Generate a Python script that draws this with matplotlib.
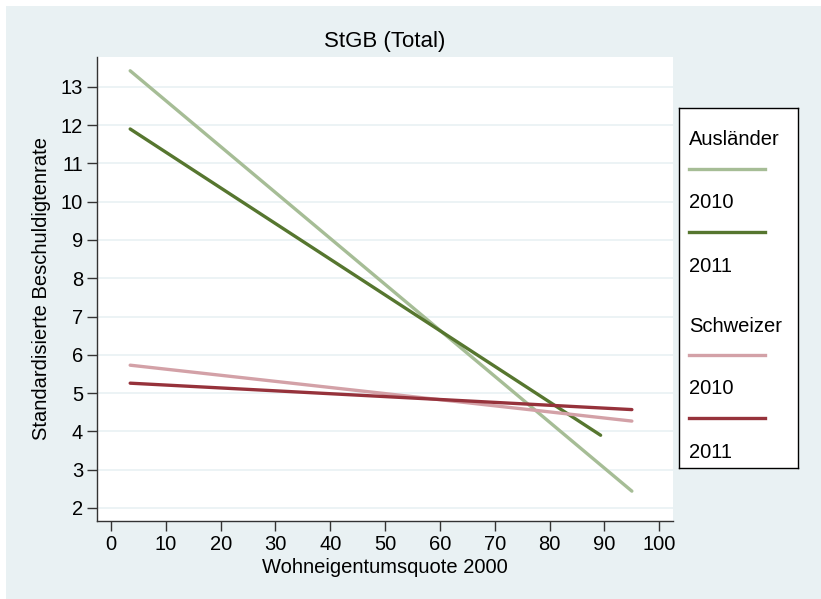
import matplotlib.pyplot as plt
from matplotlib.patches import Rectangle

plt.rcParams['font.family'] = ['Liberation Sans', 'DejaVu Sans']

# Werte (Endpunkte der Regressionsgeraden)
groups = ['Ausländer', 'Schweizer']
years = ['2010', '2011']
x_aus10 = [3.5, 95.0]
y_aus10 = [13.42, 2.44]
x_aus11 = [3.5, 89.3]
y_aus11 = [11.90, 3.90]
x_sch10 = [3.5, 95.0]
y_sch10 = [5.73, 4.27]
x_sch11 = [3.5, 95.0]
y_sch11 = [5.26, 4.57]

series = [
    (x_aus10, y_aus10, '#a6bd96'),
    (x_aus11, y_aus11, '#56762f'),
    (x_sch10, y_sch10, '#d3a1a7'),
    (x_sch11, y_sch11, '#96323b'),
]

bg = '#e9f1f3'
fs = 14.5
fig = plt.figure(figsize=(8.21, 5.99), dpi=100)
fig.patch.set_facecolor('white')
fig.patches.append(Rectangle((6/821, 0), 815/821, 593/599,
                             transform=fig.transFigure, facecolor=bg,
                             edgecolor='none', zorder=-10))

ax = fig.add_axes([97/821, 78/599, 576/821, 464/599])
ax.set_facecolor('white')
for x, y, c in series:
    ax.plot(x, y, color=c, lw=2.4, solid_capstyle='round')

ax.set_xlim(-2.55, 102.5)
ax.set_ylim(1.66, 13.78)
ax.set_xticks(range(0, 101, 10))
ax.set_yticks(range(2, 14))
ax.grid(axis='y', color=bg, lw=1.2)
ax.set_axisbelow(True)
for s in ['top', 'right']:
    ax.spines[s].set_visible(False)
for s in ['left', 'bottom']:
    ax.spines[s].set_color('#333333')
    ax.spines[s].set_linewidth(1.0)
ax.tick_params(length=7, width=1, color='#333333', labelsize=fs, pad=3)
ax.set_title('StGB (Total)', fontsize=16, pad=7)
ax.set_xlabel('Wohneigentumsquote 2000', fontsize=fs, labelpad=3)
ax.set_ylabel('Standardisierte Beschuldigtenrate', fontsize=fs, labelpad=7)

# Legende
lg = fig.add_axes([679/821, 131/599, 119/821, 360/599])
lg.set_xlim(0, 119)
lg.set_ylim(360, 0)
lg.set_xticks([])
lg.set_yticks([])
for s in lg.spines.values():
    s.set_color('black')
    s.set_linewidth(1.0)
k = 0
for gi, g in enumerate(groups):
    ypos = 32 + gi * 186
    lg.text(10, ypos, g, fontsize=fs, va='center', ha='left')
    for yr in years:
        lg.plot([10, 86], [ypos + 29, ypos + 29], color=series[k][2], lw=2.4)
        lg.text(10, ypos + 63, yr, fontsize=fs, va='center', ha='left')
        ypos += 63
        k += 1

fig.savefig('out.png', dpi=100, facecolor=fig.get_facecolor())
